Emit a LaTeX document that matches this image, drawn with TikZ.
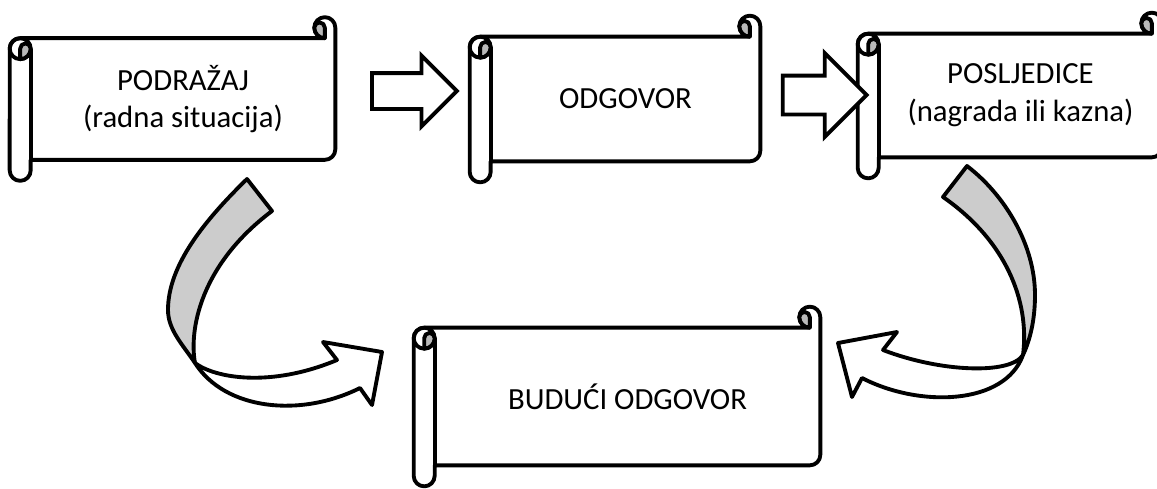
\documentclass[tikz,border=0pt]{standalone}
\usepackage{fontspec}
\setmainfont{Carlito}
\usetikzlibrary{calc,shapes.arrows,backgrounds}

\tikzset{
  scrollline/.style={line width=2.2pt, line join=round},
  scrollbody/.style={inner sep=0pt, align=center, font=\fontsize{17.5}{21.5}\selectfont},
  blockarrow/.style={single arrow, draw, line width=2.2pt, fill=white,
    single arrow tip angle=90},
  backside/.style={fill=gray!40, draw, line width=2.2pt, line join=round},
  frontside/.style={fill=white, draw, line width=2.2pt, line join=round},
}

\newcommand{\rollw}{0.42cm}
\newcommand{\rollr}{0.21cm}
\newcommand{\curlr}{0.105cm}

% scroll outline round a body node
\newcommand{\scrollframe}[1]{%
  \draw[scrollline, fill=white]
    ([xshift=-\rollw, yshift=-\rollr]#1.north west)
      arc[start angle=180, end angle=90, radius=\rollr]
      -- ([xshift=-\rollr]#1.north east)
      arc[start angle=270, end angle=0, radius=\rollr]
      -- ([yshift=\rollr]#1.south east)
      arc[start angle=0, end angle=-90, radius=\rollr]
      -- (#1.south west)
      -- ([yshift=-\rollr]#1.south west)
      arc[start angle=0, end angle=-180, radius=\rollr]
      -- cycle;
  \draw[scrollline] ([yshift=-\rollr]#1.north west) -- (#1.south west);
  \draw[scrollline] ([xshift=-\rollr, yshift=-\rollr]#1.north west) circle[radius=\rollr];
  \draw[scrollline, fill=gray!55] ([xshift=-\rollr, yshift=-\rollr]#1.north west)
      arc[start angle=180, end angle=0, radius=\curlr]
      arc[start angle=0, end angle=-90, radius=\rollr] -- cycle;
  \draw[scrollline, fill=gray!55] ([xshift=-\rollr, yshift=\rollr]#1.north east)
      arc[start angle=0, end angle=180, radius=\curlr]
      arc[start angle=180, end angle=270, radius=\rollr] -- cycle;
}

\begin{document}
\begin{tikzpicture}[x=0.02cm, y=-0.02cm]
  \useasboundingbox (0,0) rectangle (1157,488);

  % scrolls
  \node[scrollbody, minimum width=6.08cm, minimum height=2.42cm] (podrazaj) at (183,99)
    {PODRAŽAJ\\(radna situacija)};
  \node[scrollbody, minimum width=5.38cm, minimum height=2.48cm] (odgovor) at (625.5,99)
    {ODGOVOR};
  \node[scrollbody, minimum width=5.66cm, minimum height=2.46cm] (posljedice) at (1020.5,95.5)
    {POSLJEDICE\\(nagrada ili kazna)};
  \node[scrollbody, minimum width=7.7cm, minimum height=2.74cm] (buduci) at (627.5,396.5)
    {BUDUĆI ODGOVOR};

  \begin{scope}[on background layer]
    \scrollframe{podrazaj}
    \scrollframe{odgovor}
    \scrollframe{posljedice}
    \scrollframe{buduci}
  \end{scope}

  % straight arrows
  \node[blockarrow, inner sep=0.32cm, minimum height=1.7cm,
    single arrow head extend=0.35cm] (strelica1) at (405.5,91) {};
  \node[blockarrow, inner sep=0.35cm, minimum height=1.68cm,
    single arrow head extend=0.45cm] (strelica2) at (815,95) {};

  % curved arrow, left
  \draw[backside] (247,179) .. controls (205,220) and (168,265) .. (168,310)
    .. controls (168,330) and (183,345) .. (195,363)
    .. controls (189,330) and (200,265) .. (272,211) -- cycle;
  \draw[frontside] (195,363) .. controls (215,378) and (270,388) .. (337,360)
    -- (323,342) -- (382,352) -- (372,405) -- (360,388)
    .. controls (300,418) and (225,410) .. (195,363) -- cycle;

  % curved arrow, right
  \draw[backside] (967,166) .. controls (1005,195) and (1035,245) .. (1035,295)
    .. controls (1035,320) and (1030,340) .. (1023,355)
    .. controls (1030,300) and (1005,240) .. (943,197) -- cycle;
  \draw[frontside] (1023,355) .. controls (1010,375) and (940,372) .. (883,350)
    -- (897,332) -- (838,343) -- (852,397) -- (862,378)
    .. controls (920,408) and (1005,405) .. (1023,355) -- cycle;
\end{tikzpicture}
\end{document}
